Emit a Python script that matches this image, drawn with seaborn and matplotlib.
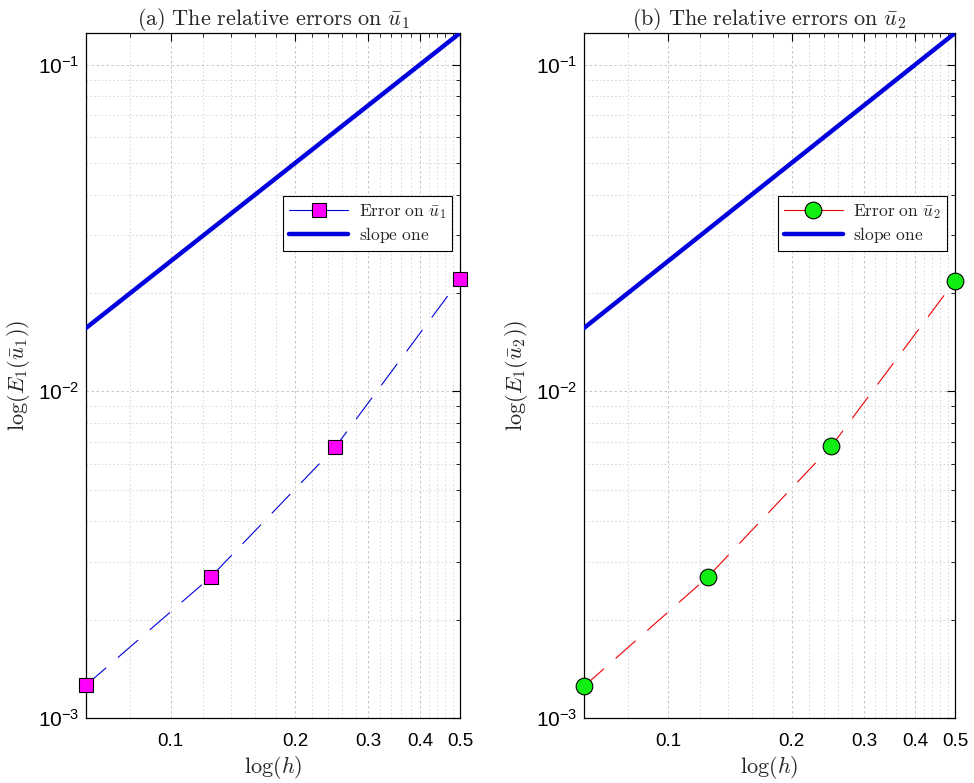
import numpy as np
import pandas as pd
import seaborn as sns
import matplotlib
matplotlib.use("Agg")
import matplotlib.pyplot as plt
from matplotlib.ticker import FixedLocator, LogLocator, NullFormatter, LogFormatterSciNotation

# data
h = [0.0625, 0.125, 0.25, 0.5]
err_u1 = [1.26e-3, 2.70e-3, 6.75e-3, 2.20e-2]
err_u2 = [1.25e-3, 2.70e-3, 6.79e-3, 2.18e-2]
slope_h = [0.0625, 0.5]
slope_y = [0.015625, 0.125]
xticks = [0.1, 0.2, 0.3, 0.4, 0.5]
xtick_labels = ["0.1", "0.2", "0.3", "0.4", "0.5"]
xminor = [0.08, 0.12, 0.14, 0.16, 0.18, 0.22, 0.24, 0.26, 0.28,
          0.32, 0.34, 0.36, 0.38, 0.42, 0.44, 0.46, 0.48]

sns.set_style("white")
plt.rcParams["font.family"] = ["Liberation Sans", "DejaVu Sans"]
plt.rcParams["mathtext.fontset"] = "cm"

fig = plt.figure(figsize=(9.74, 7.83), dpi=100)
ax1 = fig.add_axes([86 / 974, 65 / 783, 374 / 974, 685 / 783])
ax2 = fig.add_axes([584 / 974, 65 / 783, 371 / 974, 685 / 783])

panels = [
    (ax1, err_u1, "#0000dd", "s", "#ff00ff", 9.5, "1", "(a)"),
    (ax2, err_u2, "#ee0000", "o", "#11ee11", 12, "2", "(b)"),
]

for ax, err, lc, mk, mc, ms, idx, tag in panels:
    df = pd.DataFrame({"h": h, "err": err})
    sns.lineplot(data=df, x="h", y="err", ax=ax, color=lc, linewidth=0.8,
                 linestyle=(0, (24, 14)), marker=mk, markersize=ms,
                 markerfacecolor=mc, markeredgecolor="black", markeredgewidth=0.8,
                 clip_on=False, zorder=5,
                 label=r"$\mathrm{Error\ on\ }\bar{u}_" + idx + "$")
    sns.lineplot(x=slope_h, y=slope_y, ax=ax, color="#0000dd", linewidth=3.2,
                 label=r"$\mathrm{slope\ one}$", zorder=4)

    ax.set_xscale("log")
    ax.set_yscale("log")
    ax.set_xlim(0.0625, 0.5)
    ax.set_ylim(1e-3, 0.125)

    ax.xaxis.set_major_locator(FixedLocator(xticks))
    ax.set_xticklabels(xtick_labels)
    ax.xaxis.set_minor_locator(FixedLocator(xminor))
    ax.xaxis.set_minor_formatter(NullFormatter())
    ax.yaxis.set_major_locator(LogLocator(base=10, numticks=10))
    ax.yaxis.set_major_formatter(LogFormatterSciNotation())
    ax.yaxis.set_minor_locator(LogLocator(base=10, subs=np.arange(2, 10), numticks=20))
    ax.yaxis.set_minor_formatter(NullFormatter())

    ax.tick_params(which="both", direction="in", top=True, right=True, colors="black")
    ax.tick_params(axis="x", which="major", labelsize=13.5, pad=11)
    ax.tick_params(axis="y", which="major", labelsize=15, pad=5)
    ax.tick_params(which="major", length=6, width=0.8)
    ax.tick_params(which="minor", length=3, width=0.6)

    ax.grid(True, which="major", color="#bdbdbd", linestyle=(0, (3, 3)), linewidth=0.6)
    ax.grid(True, which="minor", color="#cccccc", linestyle=(0, (2, 3)), linewidth=0.55)
    ax.set_axisbelow(True)
    for s in ax.spines.values():
        s.set_color("black")
        s.set_linewidth(0.9)

    ax.set_title(r"$\mathrm{" + tag + r"\ The\ relative\ errors\ on\ }\bar{u}_" + idx + "$",
                 fontsize=16, pad=6)
    ax.set_xlabel(r"$\log(h)$", fontsize=16, labelpad=3)
    ax.set_ylabel(r"$\log(E_1(\bar{u}_" + idx + "))$", fontsize=16, labelpad=4)

    w = ax.get_position().width * 974
    leg = ax.legend(loc="upper right", bbox_to_anchor=(1 - 8 / w, 0.762),
                    borderaxespad=0, fontsize=12.5, frameon=True, fancybox=False,
                    handlelength=3.4, handletextpad=0.6, borderpad=0.35,
                    labelspacing=0.25)
    leg.get_lines()[0].set_linestyle("-")
    leg.get_frame().set_edgecolor("black")
    leg.get_frame().set_linewidth(0.8)
    leg.get_frame().set_alpha(1)

fig.savefig("out.png", dpi=100)
